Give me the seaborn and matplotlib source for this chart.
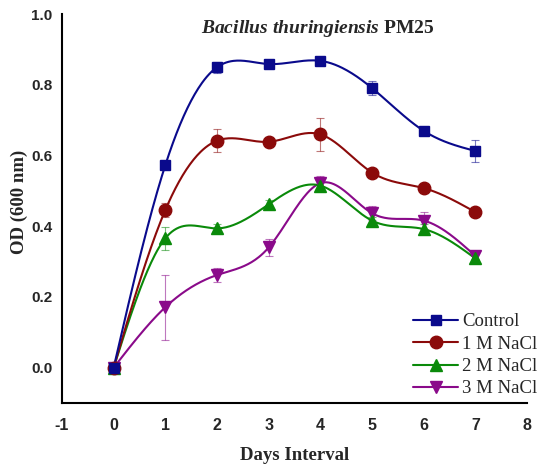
import numpy as np
import pandas as pd
import matplotlib
matplotlib.use("Agg")
import matplotlib.pyplot as plt
from matplotlib.lines import Line2D
import seaborn as sns

days = [0, 1, 2, 3, 4, 5, 6, 7]
series_names = ["Control", "1 M NaCl", "2 M NaCl", "3 M NaCl"]
control = [0.0, 0.573, 0.850, 0.859, 0.868, 0.791, 0.670, 0.613]
control_err = [0.005, 0.012, 0.015, 0.012, 0.010, 0.020, 0.008, 0.031]
nacl1 = [0.0, 0.446, 0.642, 0.639, 0.660, 0.552, 0.508, 0.440]
nacl1_err = [0.005, 0.020, 0.033, 0.012, 0.047, 0.010, 0.010, 0.008]
nacl2 = [0.0, 0.366, 0.394, 0.462, 0.515, 0.416, 0.392, 0.309]
nacl2_err = [0.005, 0.033, 0.012, 0.012, 0.012, 0.010, 0.015, 0.012]
nacl3 = [0.0, 0.171, 0.262, 0.340, 0.522, 0.437, 0.416, 0.316]
nacl3_err = [0.005, 0.092, 0.020, 0.025, 0.020, 0.020, 0.025, 0.010]
x_ticks = [-1, 0, 1, 2, 3, 4, 5, 6, 7, 8]
y_ticks = [0.0, 0.2, 0.4, 0.6, 0.8, 1.0]

colors = ["#0a0a8c", "#8b0a0a", "#0a8a0a", "#8a0a8a"]
markers = ["s", "o", "^", "v"]
msizes = [7.5, 9, 9, 9]


def natural_spline(x, y, n=300):
    x = np.asarray(x, float)
    y = np.asarray(y, float)
    k = len(x)
    h = np.diff(x)
    A = np.zeros((k, k))
    b = np.zeros(k)
    A[0, 0] = A[-1, -1] = 1
    for i in range(1, k - 1):
        A[i, i - 1] = h[i - 1]
        A[i, i] = 2 * (h[i - 1] + h[i])
        A[i, i + 1] = h[i]
        b[i] = 6 * ((y[i + 1] - y[i]) / h[i] - (y[i] - y[i - 1]) / h[i - 1])
    M = np.linalg.solve(A, b)
    xs = np.linspace(x[0], x[-1], n)
    idx = np.clip(np.searchsorted(x, xs) - 1, 0, k - 2)
    x0, x1 = x[idx], x[idx + 1]
    hh = x1 - x0
    t0 = x1 - xs
    t1 = xs - x0
    ys = (M[idx] * t0 ** 3 + M[idx + 1] * t1 ** 3) / (6 * hh) \
        + (y[idx] / hh - M[idx] * hh / 6) * t0 \
        + (y[idx + 1] / hh - M[idx + 1] * hh / 6) * t1
    return xs, ys


sns.set_theme(style="white")
plt.rcParams["font.family"] = ["Liberation Sans", "DejaVu Sans"]
plt.rcParams["mathtext.fontset"] = "custom"
plt.rcParams["mathtext.it"] = "Liberation Serif:italic:bold"
plt.rcParams["mathtext.rm"] = "Liberation Serif:bold"

fig = plt.figure(figsize=(5.51, 4.73), dpi=100)
ax = fig.add_axes([0.1125, 0.148, 0.844, 0.822])

all_vals = [control, nacl1, nacl2, nacl3]
all_errs = [control_err, nacl1_err, nacl2_err, nacl3_err]

rows = []
for name, vals in zip(series_names, all_vals):
    xs, ys = natural_spline(days, vals)
    for a, b_ in zip(xs, ys):
        rows.append({"day": a, "od": b_, "series": name})
smooth = pd.DataFrame(rows)
pts = pd.DataFrame({
    "day": np.tile(days, 4),
    "od": np.concatenate(all_vals),
    "series": np.repeat(series_names, len(days)),
})

for name, c, m, ms, vals, errs in list(zip(series_names, colors, markers, msizes, all_vals, all_errs))[::-1]:
    sub = smooth[smooth.series == name]
    sns.lineplot(data=sub, x="day", y="od", color=c, lw=1.5, ax=ax, legend=False, sort=False)
    ax.errorbar(days, vals, yerr=errs, fmt="none", ecolor=c, elinewidth=0.8,
                capsize=3, capthick=0.8, alpha=0.55, zorder=3)
    sub_p = pts[pts.series == name]
    ax.plot(sub_p["day"], sub_p["od"], linestyle="none", marker=m, markersize=ms,
            color=c, markeredgecolor=c, zorder=4)

ax.set_xlim(-1, 8)
ax.set_ylim(-0.1, 1.0)
ax.set_xticks(x_ticks)
ax.set_yticks(y_ticks)
ax.set_xticklabels([str(t) for t in x_ticks], fontweight="bold", fontsize=11.5)
ax.set_yticklabels([f"{t:.1f}" for t in y_ticks], fontweight="bold", fontsize=11)
ax.tick_params(axis="x", direction="out", length=5, width=1.2, color="black", pad=6)
ax.tick_params(axis="y", direction="in", length=5, width=1.2, color="black", pad=7)
for s in ["top", "right"]:
    ax.spines[s].set_visible(False)
for s in ["left", "bottom"]:
    ax.spines[s].set_color("black")
    ax.spines[s].set_linewidth(1.5)

ax.set_xlabel("Days Interval", fontfamily="Liberation Serif", fontweight="bold",
              fontsize=13.5, labelpad=10)
ax.set_ylabel("OD (600 nm)", fontfamily="Liberation Serif", fontweight="bold",
              fontsize=13.5)
ax.yaxis.set_label_coords(-0.073, 0.518)

ax.text(0.55, 0.99, r"$\it{Bacillus\ thuringiensis}$ PM25", transform=ax.transAxes,
        ha="center", va="top", fontfamily="Liberation Serif", fontweight="bold",
        fontsize=14)

handles = [Line2D([0], [0], color=c, lw=1.5, marker=m, markersize=ms, markeredgecolor=c)
           for c, m, ms in zip(colors, markers, msizes)]
leg = ax.legend(handles, series_names, loc="lower right", bbox_to_anchor=(1.006, 0.124),
                bbox_transform=fig.transFigure, frameon=False, handlelength=2.4,
                handletextpad=0.2, labelspacing=0.28,
                prop={"family": "Liberation Serif", "size": 13.5})

fig.savefig("out.png", dpi=100, facecolor="white")
